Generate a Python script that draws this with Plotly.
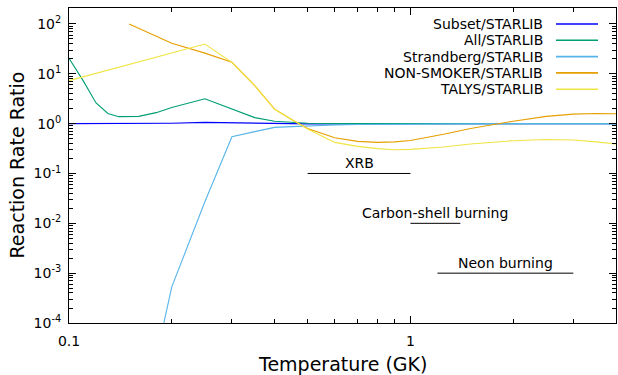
import math
import plotly.graph_objects as go

# Temperature grid (GK)
T = [0.1, 0.11, 0.12, 0.13, 0.14, 0.15, 0.16, 0.18, 0.2, 0.25, 0.3, 0.35, 0.4, 0.45,
     0.5, 0.6, 0.7, 0.8, 0.9, 1.0, 1.25, 1.5, 1.75, 2.0, 2.5, 3.0, 3.5, 4.0]

subset = [1.0, 1.0, 1.0, 1.0, 1.0, 1.0, 1.0, 1.01, 1.02, 1.06, 1.03, 1.01, 1.0, 1.0,
          0.99, 1.0, 1.0, 1.0, 1.0, 1.0, 1.0, 1.0, 1.0, 1.0, 1.0, 1.0, 1.0, 1.0]

all_rates = [20.5, 7.3, 2.6, 1.6, 1.38, 1.37, 1.4, 1.66, 2.1, 3.15, 2.0, 1.32, 1.12, 1.05,
             1.02, 1.0, 1.0, 1.0, 1.0, 1.0, 1.0, 1.0, 1.0, 1.0, 1.0, 1.0, 1.0, 1.0]

T_strandberg = [0.18, 0.2, 0.25, 0.3, 0.35, 0.4, 0.45, 0.5, 0.6, 0.7, 0.8, 0.9, 1.0,
                1.25, 1.5, 1.75, 2.0, 2.5, 3.0, 3.5, 4.0]
strandberg = [2e-5, 5.3e-4, 0.027, 0.545, 0.69, 0.84, 0.87, 0.9, 0.94, 0.96, 0.97, 0.98, 0.99,
              1.0, 1.0, 1.0, 1.0, 1.0, 1.0, 1.0, 1.0]

T_nonsmoker = [0.15, 0.16, 0.18, 0.2, 0.25, 0.3, 0.35, 0.4, 0.45, 0.5, 0.6, 0.7, 0.8, 0.9,
               1.0, 1.25, 1.5, 1.75, 2.0, 2.5, 3.0, 3.5, 4.0]
nonsmoker = [100, 82, 57, 41, 26, 17, 5.8, 1.95, 1.2, 0.80, 0.52, 0.44, 0.42, 0.43,
             0.46, 0.61, 0.8, 0.97, 1.12, 1.4, 1.55, 1.6, 1.58]

T_talys = [0.1, 0.15, 0.2, 0.25, 0.3, 0.35, 0.4, 0.45, 0.5, 0.6, 0.7, 0.8, 0.9,
           1.0, 1.25, 1.5, 1.75, 2.0, 2.5, 3.0, 3.5, 4.0]
talys = [7.3, 15.2, 26.4, 39.6, 17, 5.8, 1.94, 1.18, 0.78, 0.42, 0.35, 0.315, 0.30,
         0.305, 0.34, 0.39, 0.43, 0.455, 0.48, 0.47, 0.43, 0.39]

series_names = ["Subset/STARLIB", "All/STARLIB", "Strandberg/STARLIB",
                "NON-SMOKER/STARLIB", "TALYS/STARLIB"]
series_colors = ["#0000ff", "#009e73", "#56b4e9", "#e69f00", "#f0e442"]

# Burning regimes: label, T start, T end, level
regime_labels = ["XRB", "Carbon-shell burning", "Neon burning"]
regime_tmin = [0.5, 1.0, 1.2]
regime_tmax = [1.0, 1.4, 3.0]
regime_level = [1e-1, 1e-2, 1e-3]

# Axis ticks
y_tickvals = [1e-4, 1e-3, 1e-2, 1e-1, 1e0, 1e1, 1e2]
y_ticktext = ["10<sup>-4</sup>", "10<sup>-3</sup>", "10<sup>-2</sup>", "10<sup>-1</sup>",
              "10<sup>0</sup>", "10<sup>1</sup>", "10<sup>2</sup>"]
x_tickvals = [0.1, 1]
x_ticktext = ["0.1", "1"]

FONT = "DejaVu Sans"
W, H = 618, 375
ML, MR, MT, MB = 69, 2, 8, 52
PW, PH = W - ML - MR, H - MT - MB

fig = go.Figure()

xs = [T, T, T_strandberg, T_nonsmoker, T_talys]
ys = [subset, all_rates, strandberg, nonsmoker, talys]
for name, color, xv, yv in zip(series_names, series_colors, xs, ys):
    fig.add_trace(go.Scatter(x=xv, y=yv, mode="lines", name=name,
                             line=dict(color=color, width=1.1), showlegend=False))

for lab, a, b, lev in zip(regime_labels, regime_tmin, regime_tmax, regime_level):
    fig.add_trace(go.Scatter(x=[a, b], y=[lev, lev], mode="lines",
                             line=dict(color="black", width=1), showlegend=False,
                             hoverinfo="skip"))
    fig.add_annotation(x=math.log10(math.sqrt(a * b)), y=math.log10(lev), xref="x", yref="y",
                       text=lab, showarrow=False, yanchor="bottom", yshift=0,
                       font=dict(family=FONT, size=14, color="black"))

# Legend: right-aligned labels with line samples on the right
def px_to_paper_x(px):
    return (px - ML) / PW

def py_to_paper_y(py):
    return (MT + PH - py) / PH

row_y = [24, 40.3, 56.6, 72.9, 89.2]
for name, color, py in zip(series_names, series_colors, row_y):
    fig.add_annotation(x=px_to_paper_x(545), y=py_to_paper_y(py), xref="paper", yref="paper",
                       text=name, showarrow=False, xanchor="right", yanchor="middle",
                       font=dict(family=FONT, size=14, color="black"))
    fig.add_shape(type="line", xref="paper", yref="paper",
                  x0=px_to_paper_x(556), x1=px_to_paper_x(598),
                  y0=py_to_paper_y(py), y1=py_to_paper_y(py),
                  line=dict(color=color, width=1.6))

# Axis titles
fig.add_annotation(x=0.5, y=py_to_paper_y(364), xref="paper", yref="paper",
                   text="Temperature (GK)", showarrow=False, xanchor="center", yanchor="middle",
                   font=dict(family=FONT, size=19, color="black"))
fig.add_annotation(x=px_to_paper_x(16), y=0.5, xref="paper", yref="paper",
                   text="Reaction Rate Ratio", showarrow=False, textangle=-90,
                   xanchor="center", yanchor="middle",
                   font=dict(family=FONT, size=19, color="black"))

y_minor = [m * 10.0 ** e for e in range(-4, 3) for m in range(2, 10) if m * 10.0 ** e < 210]
x_minor = [0.2, 0.3, 0.4, 0.5, 0.6, 0.7, 0.8, 0.9, 2, 3]

fig.update_xaxes(type="log", range=[-1, math.log10(4)], showgrid=False, zeroline=False,
                 showline=True, linecolor="black", linewidth=1, mirror="ticks",
                 ticks="inside", ticklen=7, tickcolor="black", tickwidth=1,
                 tickmode="array", tickvals=x_tickvals, ticktext=x_ticktext,
                 ticklabelstandoff=5,
                 minor=dict(ticks="inside", ticklen=4, tickcolor="black", tickwidth=1,
                            tickmode="array", tickvals=x_minor, showgrid=False),
                 tickfont=dict(family=FONT, size=14, color="black"))
fig.update_yaxes(type="log", range=[-4, 2.32], showgrid=False, zeroline=False,
                 showline=True, linecolor="black", linewidth=1, mirror="ticks",
                 ticks="inside", ticklen=7, tickcolor="black", tickwidth=1,
                 tickmode="array", tickvals=y_tickvals, ticktext=y_ticktext,
                 ticklabelstandoff=4,
                 minor=dict(ticks="inside", ticklen=4, tickcolor="black", tickwidth=1,
                            tickmode="array", tickvals=y_minor, showgrid=False),
                 tickfont=dict(family=FONT, size=14, color="black"))

fig.update_layout(width=W, height=H, margin=dict(l=ML, r=MR, t=MT, b=MB),
                  paper_bgcolor="white", plot_bgcolor="white", showlegend=False,
                  font=dict(family=FONT, size=14, color="black"))

fig.write_html("out.html")
